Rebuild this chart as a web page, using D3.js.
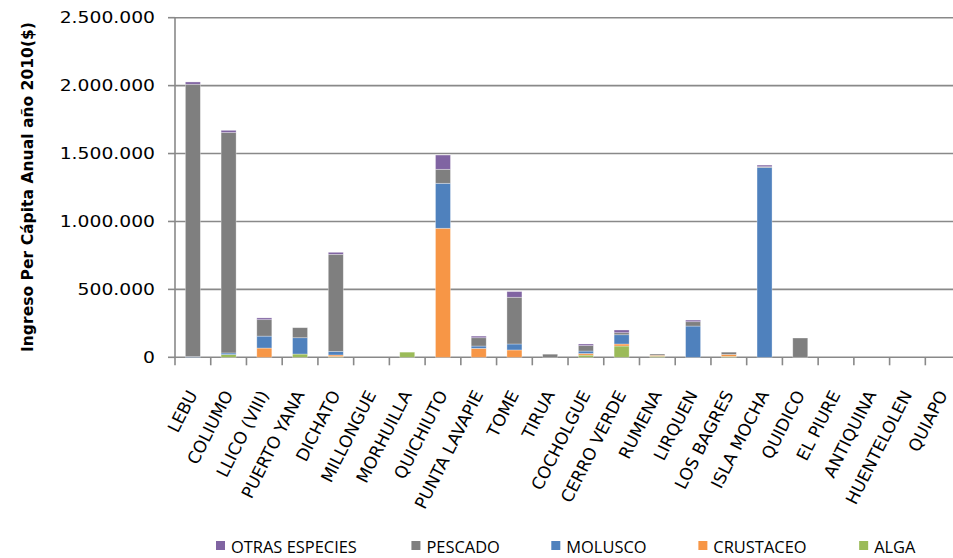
<!DOCTYPE html>
<html>
<head>
<meta charset="utf-8">
<script src="https://cdn.jsdelivr.net/npm/d3@7/dist/d3.min.js"></script>
<style>
  html, body { margin: 0; padding: 0; background: #fff; }
  svg { display: block; }
</style>
</head>
<body>
<svg id="chart" width="953" height="558"></svg>
<script>
// Caletas (fishing coves) in the order shown on the axis
const categories = ["LEBU", "COLIUMO", "LLICO (VIII)", "PUERTO YANA", "DICHATO", "MILLONGUE",
  "MORHUILLA", "QUICHIUTO", "PUNTA LAVAPIE", "TOME", "TIRUA", "COCHOLGUE", "CERRO VERDE",
  "RUMENA", "LIRQUEN", "LOS BAGRES", "ISLA MOCHA", "QUIDICO", "EL PIURE", "ANTIQUINA",
  "HUENTELOLEN", "QUIAPO"];

// Annual per-capita income 2010 ($) by resource group
const alga      = [0, 20000, 0, 24000, 5000, 0, 38000, 0, 0, 0, 0, 16000, 83000, 8000, 0, 6000, 0, 0, 0, 0, 0, 0];
const crustaceo = [0, 0, 68000, 0, 12000, 0, 0, 950000, 66000, 54000, 0, 12000, 15000, 7000, 0, 15000, 0, 0, 0, 0, 0, 0];
const molusco   = [5000, 12000, 88000, 120000, 27000, 0, 0, 331000, 17000, 44000, 0, 18000, 68000, 0, 230000, 0, 1398000, 0, 0, 0, 0, 0];
const pescado   = [2005000, 1623000, 121000, 74000, 714000, 0, 0, 103000, 61000, 344000, 23000, 40000, 15000, 9000, 32000, 17000, 5000, 142000, 0, 0, 0, 0];
const otras     = [17000, 16000, 13000, 0, 15000, 0, 0, 105000, 12000, 42000, 0, 12000, 20000, 0, 12000, 0, 12000, 0, 0, 0, 0, 0];

const yTicks = [0, 500000, 1000000, 1500000, 2000000, 2500000];

// Series, bottom to top of each stack
const seriesKeys   = ["alga", "crustaceo", "molusco", "pescado", "otras"];
const seriesNames  = { alga: "ALGA", crustaceo: "CRUSTACEO", molusco: "MOLUSCO", pescado: "PESCADO", otras: "OTRAS ESPECIES" };
const seriesColors = { alga: "#9BBB59", crustaceo: "#F79646", molusco: "#4F81BD", pescado: "#7F7F7F", otras: "#8064A2" };
const legendOrder  = ["otras", "pescado", "molusco", "crustaceo", "alga"];

const rows = categories.map((c, i) => ({
  caleta: c, alga: alga[i], crustaceo: crustaceo[i], molusco: molusco[i], pescado: pescado[i], otras: otras[i]
}));

const svg = d3.select("#chart");
const gridColor = "#898989";

const plotLeft = 175, plotTop = 17.7, plotBottom = 357.3, step = 35.73;
const plotRight = plotLeft + step * categories.length;

const x = d3.scaleBand().domain(categories).range([plotLeft, plotRight])
  .paddingInner(0.58).paddingOuter(0.29);
const y = d3.scaleLinear().domain([0, 2500000]).range([plotBottom, plotTop]);

const es = d3.formatLocale({ decimal: ",", thousands: ".", grouping: [3], currency: ["$", ""] });
const fmt = es.format(",.0f");

// stretch a text element horizontally by a factor
function stretch(sel, k) {
  sel.each(function () {
    const len = this.getComputedTextLength();
    d3.select(this).attr("textLength", len * k).attr("lengthAdjust", "spacingAndGlyphs");
  });
}

// horizontal gridlines
svg.append("g").selectAll("line").data(yTicks).join("line")
  .attr("x1", plotLeft).attr("x2", plotRight)
  .attr("y1", d => y(d)).attr("y2", d => y(d))
  .attr("stroke", gridColor).attr("stroke-width", 1.6);

// y axis line + ticks
svg.append("line").attr("x1", plotLeft).attr("x2", plotLeft)
  .attr("y1", y(2500000)).attr("y2", plotBottom + 8)
  .attr("stroke", gridColor).attr("stroke-width", 1.6);
svg.append("g").selectAll("line").data(yTicks).join("line")
  .attr("x1", plotLeft - 7).attr("x2", plotLeft)
  .attr("y1", d => y(d)).attr("y2", d => y(d))
  .attr("stroke", gridColor).attr("stroke-width", 1.6);

// category boundary ticks below the baseline
svg.append("g").selectAll("line").data(d3.range(1, categories.length + 1)).join("line")
  .attr("x1", i => plotLeft + i * step).attr("x2", i => plotLeft + i * step)
  .attr("y1", plotBottom).attr("y2", plotBottom + 8)
  .attr("stroke", gridColor).attr("stroke-width", 1.6);

// stacked bars
const stacked = d3.stack().keys(seriesKeys)(rows);
svg.append("g").selectAll("g").data(stacked).join("g")
  .attr("fill", s => seriesColors[s.key])
  .selectAll("rect").data(s => s.filter(d => d[1] - d[0] > 0)).join("rect")
  .attr("x", d => x(d.data.caleta))
  .attr("width", x.bandwidth())
  .attr("y", d => y(d[1]))
  .attr("height", d => y(d[0]) - y(d[1]))
  .attr("stroke", "#ffffff").attr("stroke-opacity", 0.45).attr("stroke-width", 0.7);

// y tick labels
svg.append("g").selectAll("text").data(yTicks).join("text")
  .attr("x", 155).attr("y", d => y(d)).attr("dy", "0.36em")
  .attr("text-anchor", "end")
  .attr("font-family", "DejaVu Sans").attr("font-size", 16).attr("fill", "#000")
  .text(d => fmt(d))
  .call(stretch, 1.17);

// y axis title
svg.append("text")
  .attr("transform", "translate(32.5,187) rotate(-90)")
  .attr("text-anchor", "middle")
  .attr("font-family", "DejaVu Sans").attr("font-weight", "bold").attr("font-size", 15.5)
  .attr("fill", "#000")
  .text("Ingreso Per Cápita Anual año 2010($)")
  .attr("textLength", 330).attr("lengthAdjust", "spacingAndGlyphs");

// category labels
svg.append("g").selectAll("text").data(categories).join("text")
  .attr("transform", c => "translate(" + (x(c) + x.bandwidth() / 2 + 5) + "," + (plotBottom + 37) + ") rotate(-63)")
  .attr("text-anchor", "end")
  .attr("font-family", "DejaVu Sans").attr("font-size", 17).attr("fill", "#000")
  .text(c => c);

// legend
let lx = 216;
const legend = svg.append("g");
legendOrder.forEach(k => {
  legend.append("rect").attr("x", lx).attr("y", 541).attr("width", 9).attr("height", 9)
    .attr("fill", seriesColors[k]);
  const t = legend.append("text").attr("x", lx + 15).attr("y", 552.5)
    .attr("font-family", "Open Sans").attr("font-size", 15.5).attr("fill", "#000")
    .text(seriesNames[k])
    .call(stretch, 1.06);
  lx += 15 + t.node().getComputedTextLength() * 1.06 + 47;
});
</script>
</body>
</html>
